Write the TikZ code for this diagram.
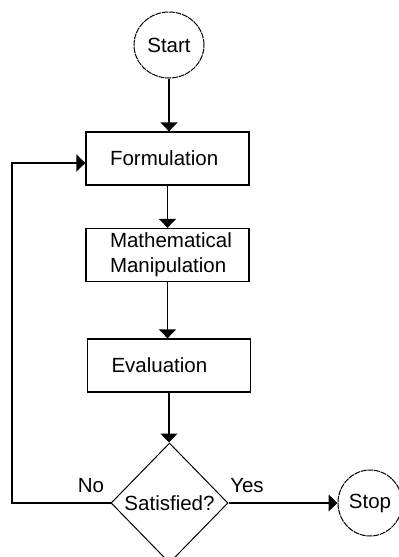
\documentclass[tikz,border=0pt]{standalone}
\usepackage{fontspec}
\setmainfont{Liberation Sans}
\usetikzlibrary{arrows.meta,shapes.geometric}
\hfuzz=40pt
\hbadness=10000
\begin{document}
\begin{tikzpicture}[x=1pt,y=-1pt,
  every node/.style={font=\fontsize{20.5}{25}\selectfont, text=black},
  procbox/.style={draw, line width=1.3pt, minimum width=163pt, minimum height=53pt,
    text width=115pt, align=flush left, inner xsep=0pt, inner ysep=2pt},
  term/.style={draw, ellipse, line width=1pt, dash pattern=on 6pt off 0.8pt, inner sep=0pt},
  decide/.style={draw, diamond, line width=1pt, minimum width=117pt, minimum height=120pt, inner sep=0pt},
  arr/.style={line width=1.3pt, -{Triangle[length=9pt,width=17pt]}},
  lbl/.style={inner sep=0pt}
]
\useasboundingbox[fill=white] (0,0) rectangle (399,557);
\node[term, minimum width=70pt, minimum height=66pt] (start) at (169,45) {Start};
\node[procbox] (form) at (167.5,158.5) {Formulation};
\node[procbox] (math) at (167.5,255) {Mathematical\\Manipulation};
\node[procbox] (eval) at (169,365.5) {Evaluation};
\node[decide] (sat) at (169.5,503) {\raisebox{-2pt}{Satisfied?}};
\node[term, minimum width=64pt, minimum height=66pt] (stop) at (370,503) {Stop};
\node[lbl] (no) at (91,486) {No};
\node[lbl] (yes) at (247,486) {Yes};
\coordinate (fb) at (12,503);
\draw[arr] (start.south) -- (start.south |- form.north);
\draw[arr] (form.south) -- (math.north);
\draw[arr] (math.south) -- (math.south |- eval.north);
\draw[arr] (eval.south) -- (eval.south |- sat.north);
\draw[arr] (sat.east) -- (stop.west);
\draw[arr] (sat.west) -- (fb) |- ([yshift=-4.5pt]form.west);
\end{tikzpicture}
\end{document}
